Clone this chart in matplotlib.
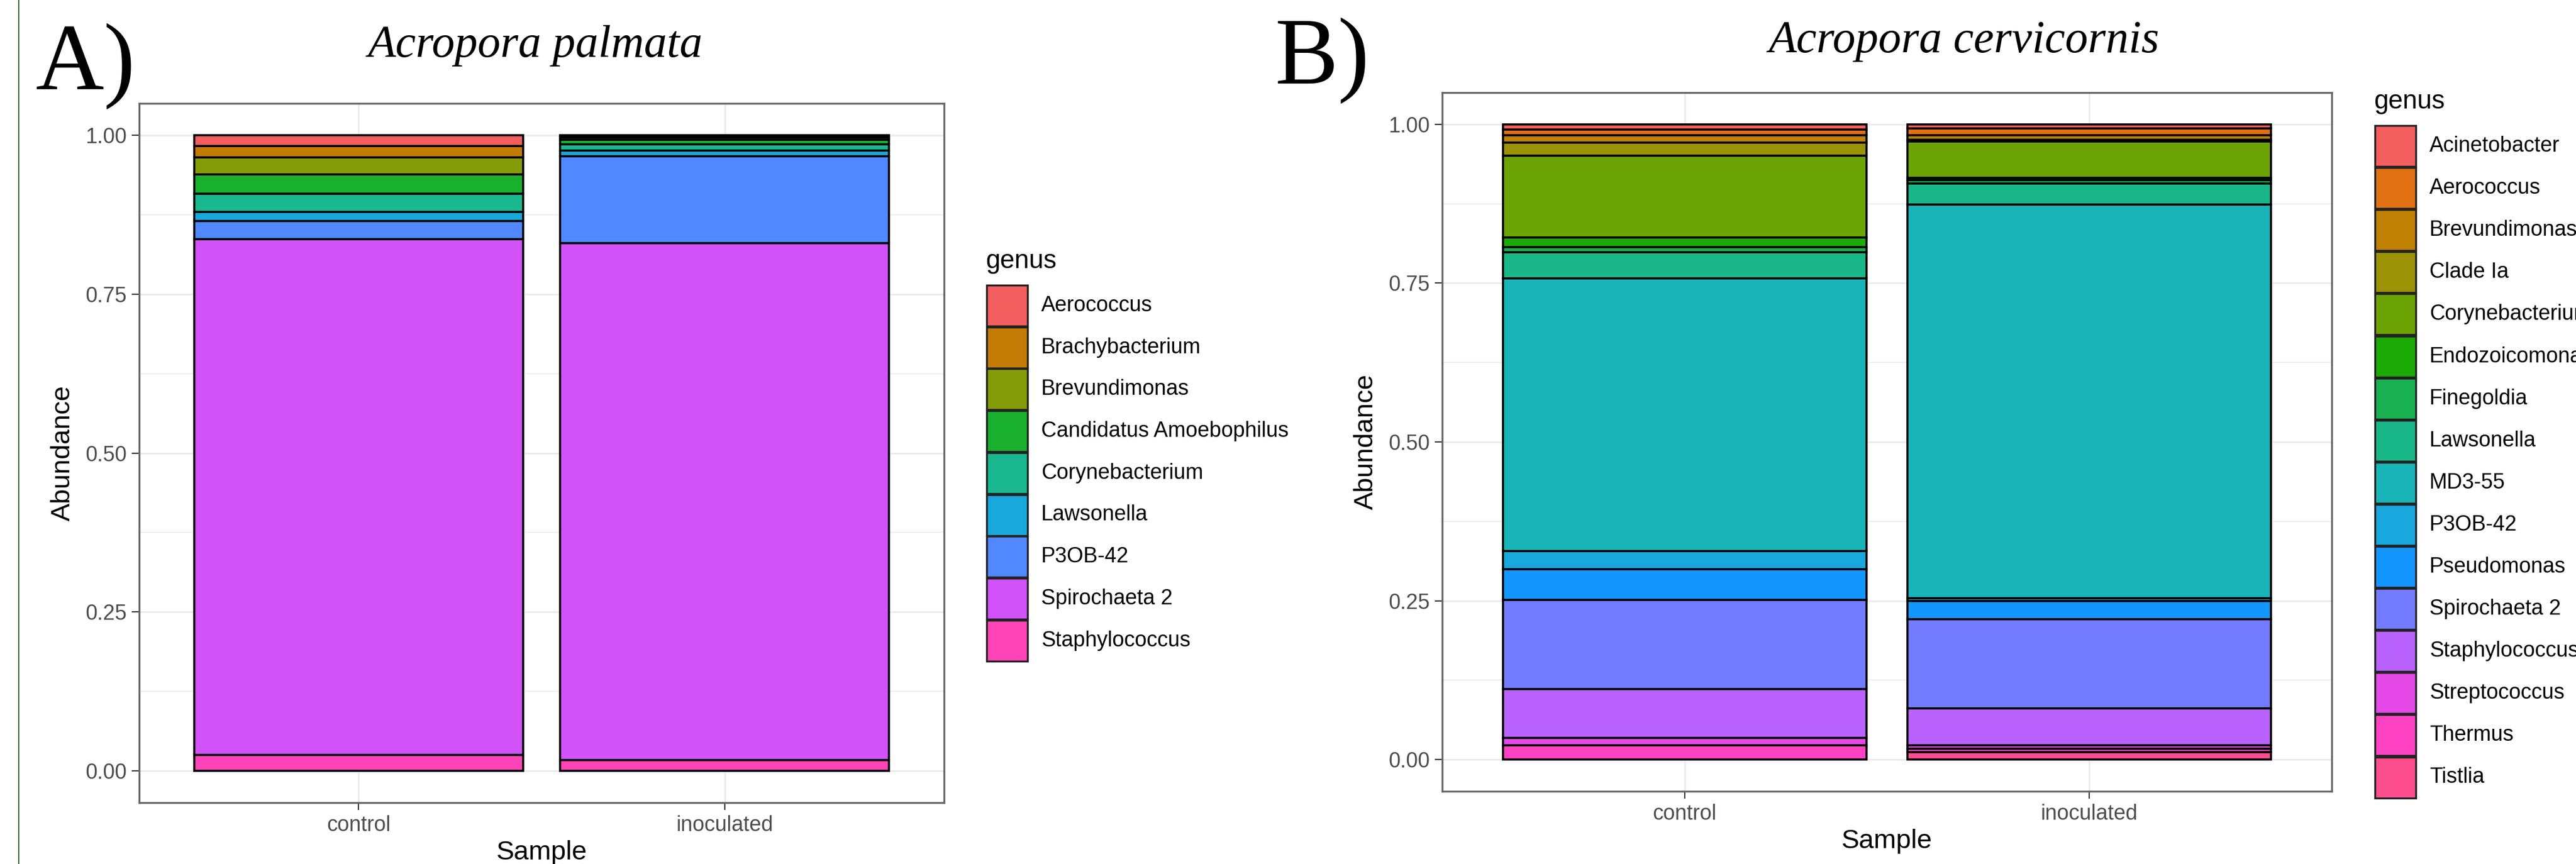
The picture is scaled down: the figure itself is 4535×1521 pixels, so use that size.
import matplotlib as mpl
mpl.use('Agg')
import matplotlib.pyplot as plt
from matplotlib.patches import Rectangle
from matplotlib.lines import Line2D

# dados
samples = ['control', 'inoculated']

genera_a = ['Aerococcus', 'Brachybacterium', 'Brevundimonas', 'Candidatus Amoebophilus',
            'Corynebacterium', 'Lawsonella', 'P3OB-42', 'Spirochaeta 2', 'Staphylococcus']
control_a = [0.017, 0.018, 0.027, 0.030, 0.029, 0.014, 0.029, 0.811, 0.025]
inoc_a = [0.002, 0.002, 0.003, 0.007, 0.010, 0.009, 0.137, 0.813, 0.017]
colors_a = ['#F35E5E', '#C47B06', '#849C07', '#19B02D', '#19B88E',
            '#19A8DC', '#4F88FF', '#D052F8', '#FF44B8']

genera_b = ['Acinetobacter', 'Aerococcus', 'Brevundimonas', 'Clade Ia', 'Corynebacterium',
            'Endozoicomonas', 'Finegoldia', 'Lawsonella', 'MD3-55', 'P3OB-42',
            'Pseudomonas', 'Spirochaeta 2', 'Staphylococcus', 'Streptococcus', 'Thermus', 'Tistlia']
control_b = [0.008, 0.009, 0.012, 0.020, 0.129, 0.015, 0.008, 0.041, 0.430, 0.028,
             0.049, 0.140, 0.077, 0.012, 0.022, 0.0]
inoc_b = [0.006, 0.011, 0.007, 0.003, 0.057, 0.004, 0.005, 0.033, 0.620, 0.004,
          0.029, 0.140, 0.059, 0.005, 0.005, 0.012]
colors_b = ['#F35E5E', '#E07012', '#BF8004', '#9B9206', '#6CA304', '#1CAA06', '#19B052',
            '#19B787', '#19B4B8', '#19A8DE', '#1496FF', '#737CFF', '#B962FE', '#E549E8',
            '#FF42C4', '#FF4E8E']

W, H = 4535, 1521
DPI = 100
plt.rcParams['font.family'] = ['Liberation Sans', 'DejaVu Sans']

fig = plt.figure(figsize=(W / DPI, H / DPI), dpi=DPI)


def fx(x):
    return x / W


def fy(y):
    return 1 - y / H


def painel(box, genera, cols, valores, titulo, letra, leg):
    l, t, r, b = box
    ax = fig.add_axes([fx(l), fy(b), fx(r - l), (b - t) / H])
    xs = range(len(samples))
    bottoms = [0.0] * len(samples)
    # empilha do ultimo genero (embaixo) para o primeiro (em cima), como no ggplot
    for i in reversed(range(len(genera))):
        alturas = [v[i] for v in valores]
        for j in xs:
            if alturas[j] > 0:
                ax.bar(j + 1, alturas[j], bottom=bottoms[j], width=0.9, color=cols[i],
                       edgecolor='black', linewidth=2.6, zorder=3)
            bottoms[j] += alturas[j]
    ax.set_xlim(0.4, 2.6)
    ax.set_ylim(-0.05, 1.05)
    ax.set_xticks([1, 2])
    ax.set_xticklabels(samples)
    ax.set_yticks([0, 0.25, 0.5, 0.75, 1.0])
    ax.set_yticklabels(['0.00', '0.25', '0.50', '0.75', '1.00'])
    ax.set_yticks([0.125, 0.375, 0.625, 0.875], minor=True)
    ax.tick_params(axis='both', which='major', labelsize=27, labelcolor='#4D4D4D',
                   length=9.5, width=1.6, color='#333333', pad=6)
    ax.tick_params(axis='y', which='minor', length=0)
    ax.grid(True, which='major', color='#EBEBEB', linewidth=2.2, zorder=0)
    ax.grid(True, which='minor', axis='y', color='#EBEBEB', linewidth=1.2, zorder=0)
    ax.set_axisbelow(True)
    for s in ax.spines.values():
        s.set_color('#666666')
        s.set_linewidth(2.4)

    cx = (l + r) / 2
    fig.text(fx(l - 134), fy((t + b) / 2), 'Abundance', rotation=90, ha='center', va='center',
             fontsize=34, color='black')
    fig.text(fx(cx), fy(b + 88), 'Sample', ha='center', va='center', fontsize=34)

    # titulo e letra do painel
    fig.text(fx(titulo[1]), fy(titulo[2]), titulo[0], ha='center', va='baseline', fontsize=58,
             family='Liberation Serif', style='italic')
    fig.text(fx(letra[1]), fy(letra[2]), letra[0], ha='left', va='baseline', fontsize=120,
             family='Liberation Serif')

    # legenda manual
    lx, ly, passo = leg
    fig.text(fx(lx), fy(ly - 78), 'genus', ha='left', va='center', fontsize=33)
    for i, g in enumerate(genera):
        yc = ly + i * passo
        fig.add_artist(Rectangle((fx(lx + 2), fy(yc + 36)), 72 / W, 72 / H, facecolor=cols[i],
                                 edgecolor='#222222', linewidth=2.4, transform=fig.transFigure))
        fig.text(fx(lx + 98), fy(yc), g, ha='left', va='center', fontsize=27, color='black')
    return ax


painel((245, 182, 1662, 1413), genera_a, colors_a, [control_a, inoc_a],
       ('Acropora palmata', 942, 100), ('A)', 62, 157), (1735, 538, 73.7))
painel((2539, 163, 4105, 1393), genera_b, colors_b, [control_b, inoc_b],
       ('Acropora cervicornis', 3457, 92), ('B)', 2244, 147), (4179, 257, 74.1))

# linha verde na borda esquerda
fig.add_artist(Line2D([fx(33), fx(33)], [0, 1], color='#2F6B2F', linewidth=1.5,
                      transform=fig.transFigure))

plt.savefig('out.png', dpi=DPI, facecolor='white')
plt.close()
